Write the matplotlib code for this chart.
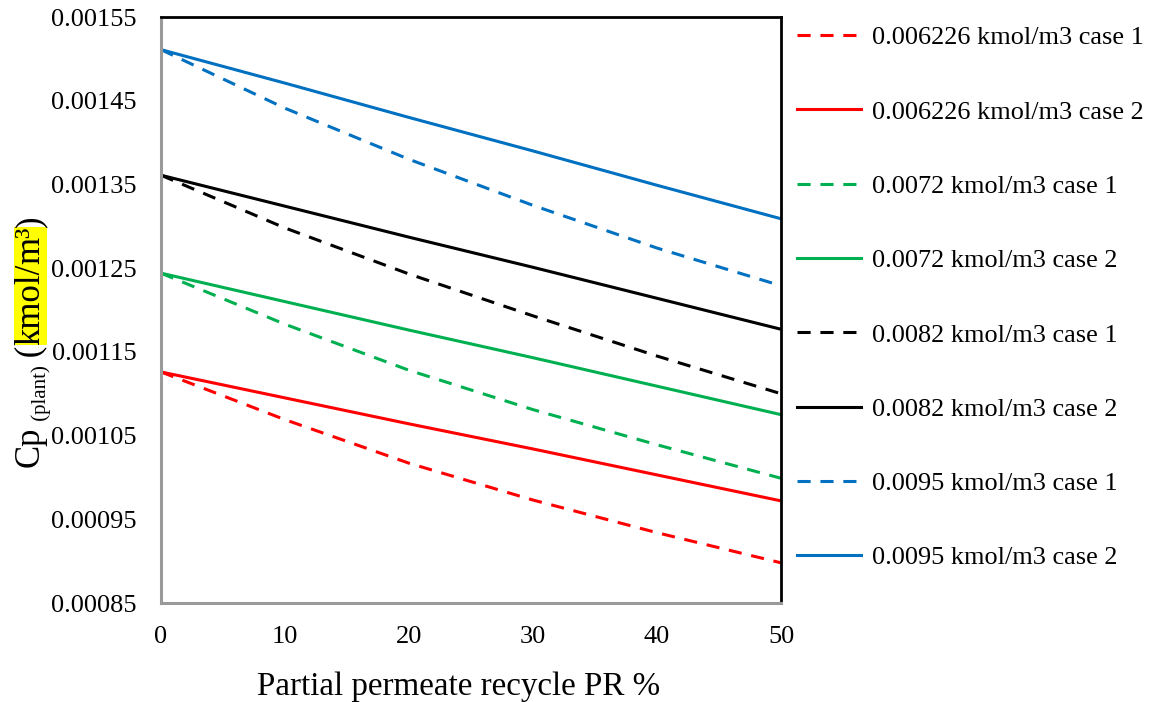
import matplotlib
matplotlib.use("Agg")
import matplotlib.pyplot as plt
from matplotlib.transforms import IdentityTransform

# data
pr = [0, 10, 20, 30, 40, 50]

red_case1 = [0.001126, 0.001069, 0.001017, 0.000973, 0.000934, 0.000898]
red_case2 = [0.001126, 0.001095, 0.001064, 0.001034, 0.001003, 0.000972]
green_case1 = [0.001244, 0.001183, 0.001128, 0.001081, 0.001039, 0.000999]
green_case2 = [0.001244, 0.001210, 0.001176, 0.001143, 0.001109, 0.001075]
black_case1 = [0.001361, 0.001298, 0.001243, 0.001193, 0.001145, 0.001100]
black_case2 = [0.001361, 0.001324, 0.001287, 0.001251, 0.001214, 0.001177]
blue_case1 = [0.001511, 0.001441, 0.001380, 0.001325, 0.001274, 0.001229]
blue_case2 = [0.001511, 0.001471, 0.001430, 0.001390, 0.001349, 0.001309]

series_labels = [
    "0.006226 kmol/m3 case 1", "0.006226 kmol/m3 case 2",
    "0.0072 kmol/m3 case 1", "0.0072 kmol/m3 case 2",
    "0.0082 kmol/m3 case 1", "0.0082 kmol/m3 case 2",
    "0.0095 kmol/m3 case 1", "0.0095 kmol/m3 case 2",
]
series = [red_case1, red_case2, green_case1, green_case2,
          black_case1, black_case2, blue_case1, blue_case2]
colors = ["#FF0000", "#FF0000", "#00B050", "#00B050",
          "#000000", "#000000", "#0070C0", "#0070C0"]

yticks = [0.00085, 0.00095, 0.00105, 0.00115, 0.00125, 0.00135, 0.00145, 0.00155]
xticks = [0, 10, 20, 30, 40, 50]

plt.rcParams["font.family"] = ["Liberation Serif", "DejaVu Serif"]

W, H, DPI = 1151, 702, 100
fig = plt.figure(figsize=(W / DPI, H / DPI), dpi=DPI)
ax = fig.add_axes([161 / W, 1 - 603 / H, 620 / W, 586 / H])

for i, (vals, lab, col) in enumerate(zip(series, series_labels, colors)):
    if i % 2 == 0:
        ax.plot(pr, vals, color=col, lw=2.2, dashes=(4.3, 3.2), label=lab)
    else:
        ax.plot(pr, vals, color=col, lw=2.2, label=lab)

ax.set_xlim(0, 50)
ax.set_ylim(0.00085, 0.00155)
ax.set_xticks(xticks)
ax.set_yticks(yticks)
ax.set_yticklabels([f"{v:.5f}" for v in yticks])
ax.tick_params(length=0, labelsize=19)
ax.tick_params(axis="y", pad=17.5)
ax.tick_params(axis="x", pad=16.5)

for side in ("left", "bottom"):
    ax.spines[side].set_color("#9a9a9a")
    ax.spines[side].set_linewidth(2.2)
for side in ("top", "right"):
    ax.spines[side].set_color("black")
    ax.spines[side].set_linewidth(2.0)

ax.set_xlabel("Partial permeate recycle PR %", fontsize=23.8, labelpad=17)
ax.xaxis.label.set_x((459 - 161) / 620)

ax.legend(loc="upper left", bbox_to_anchor=(797 / W, 1 - 26 / H),
          bbox_transform=fig.transFigure, frameon=False, fontsize=18.9,
          handlelength=2.45, handletextpad=0.42, labelspacing=1.94,
          borderaxespad=0, borderpad=0)

# y label built from pieces: Cp, subscript (plant), (kmol/m³) with highlight
fig.canvas.draw()
rend = fig.canvas.get_renderer()
hl = dict(facecolor="yellow", edgecolor="none", pad=0)
pieces = [
    ("Cp", 25, 0, None),
    (" (plant)", 15, 7, None),
    (" (", 25, 0, None),
    ("kmol/", 25, 0, hl),
    ("m³", 25, 0, hl),
    (")", 25, 0, None),
]
base_x = 39
texts = []
total = 0
for txt, size, dx, box in pieces:
    t = fig.text(W - base_x + dx, 0, txt, rotation=90, rotation_mode="anchor",
                 ha="left", va="baseline", fontsize=size, transform=IdentityTransform(),
                 bbox=box)
    ext = t.get_window_extent(rend)
    texts.append((t, dx, ext.height))
    total += ext.height

y = (H - 341) - total / 2
for t, dx, h in texts:
    t.set_position((base_x + dx, y))
    y += h

fig.savefig("out.png", dpi=DPI)
